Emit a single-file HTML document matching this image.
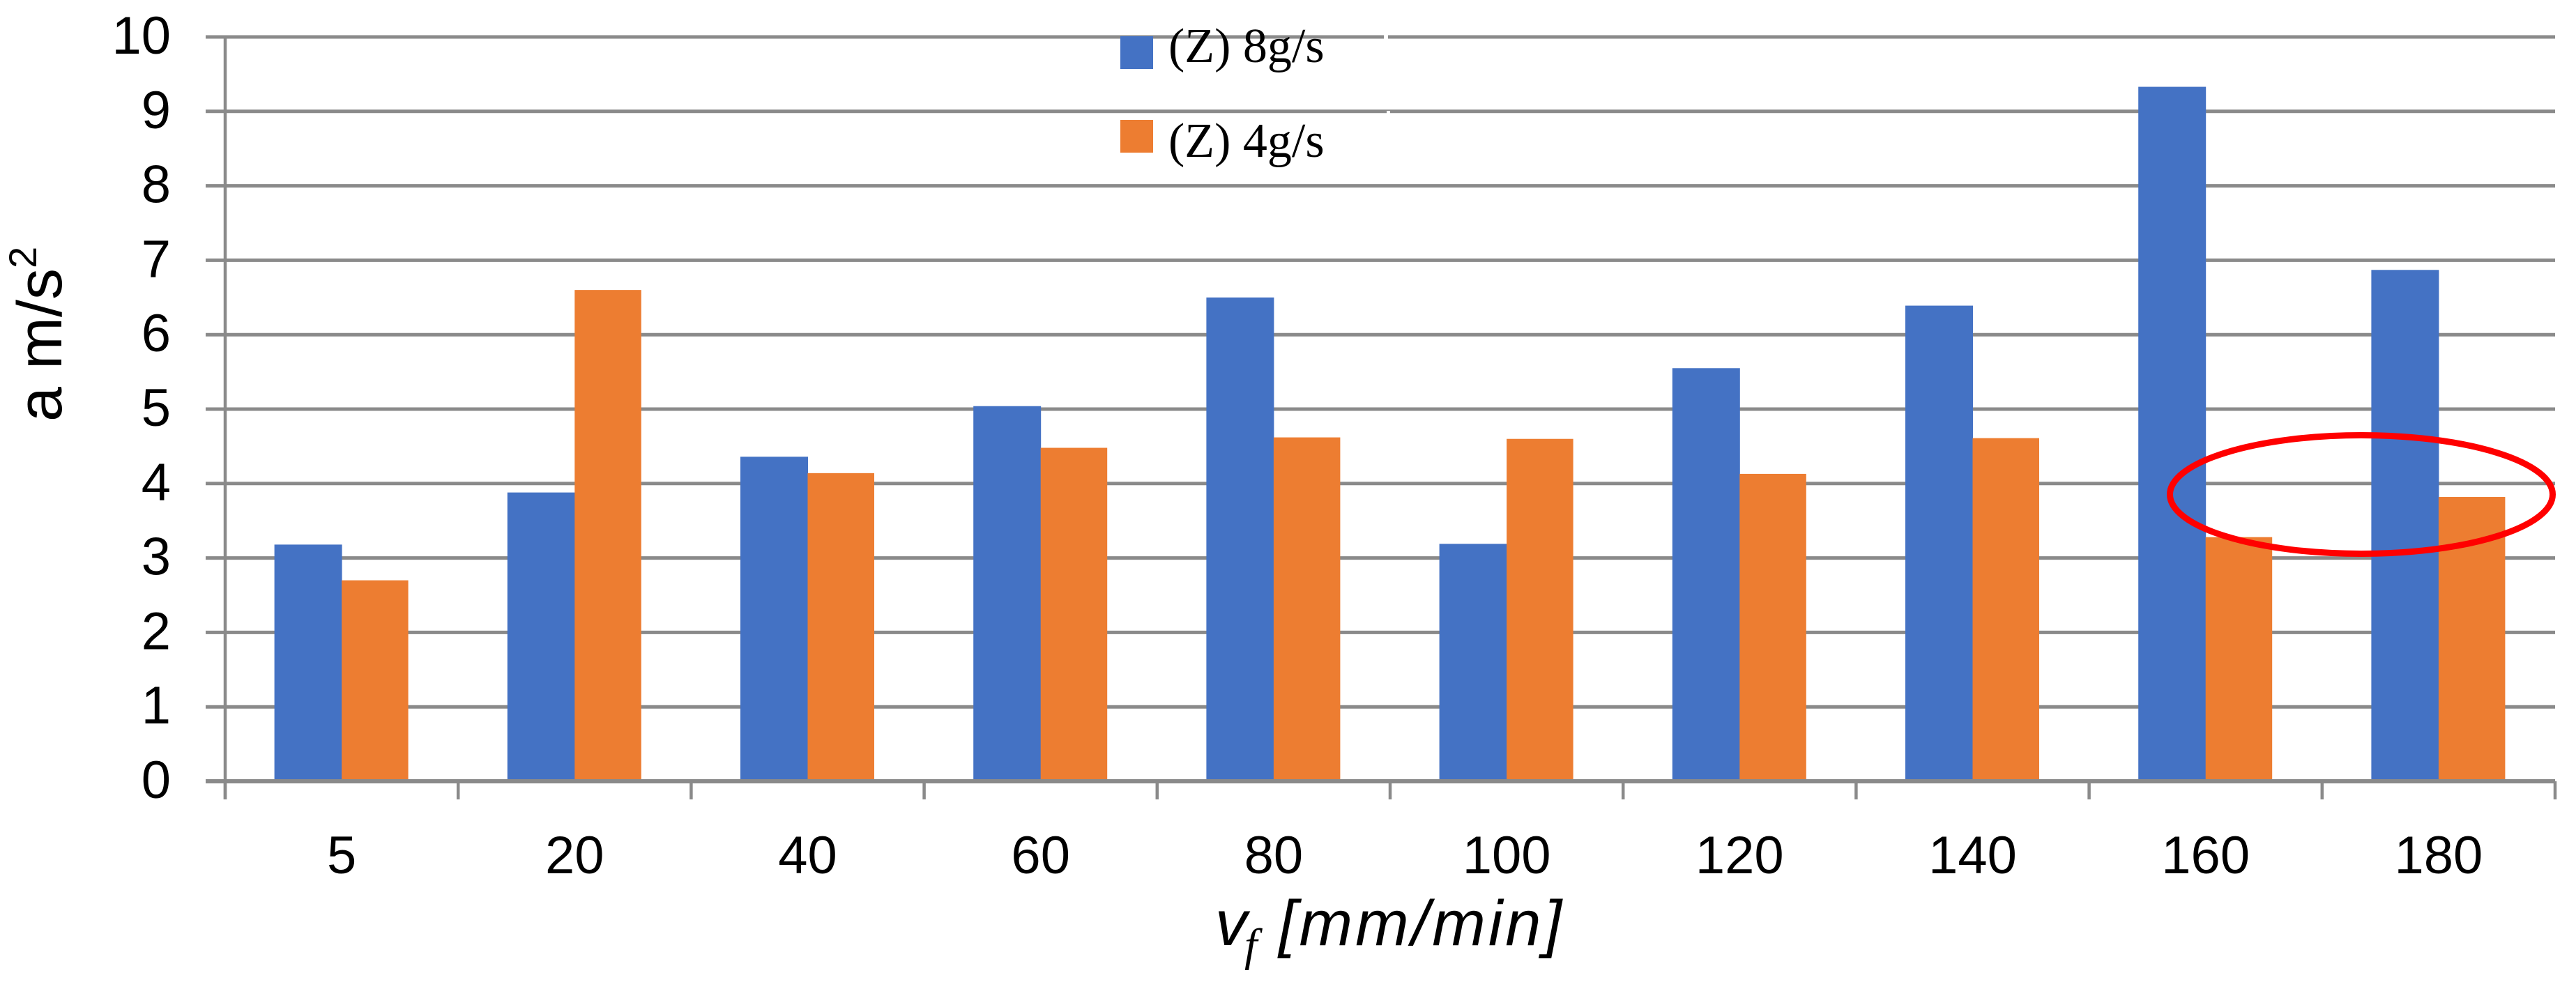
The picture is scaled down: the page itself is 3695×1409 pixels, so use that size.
<!DOCTYPE html>
<html>
<head>
<meta charset="utf-8">
<style>
html,body{margin:0;padding:0;background:#fff;width:3695px;height:1409px;overflow:hidden}
svg{display:block}
.tick{font-family:"Liberation Sans",sans-serif;font-size:76px;fill:#000}
</style>
</head>
<body>
<svg id="chart" xmlns="http://www.w3.org/2000/svg" width="3695" height="1409" viewBox="0 0 3695 1409">
  <rect x="0" y="0" width="3695" height="1409" fill="#fff"/>
  <g id="grid"></g>
  <g id="axes"></g>
  <g id="bars"></g>
  <g id="ylabels"></g>
  <g id="xlabels"></g>

  <text transform="translate(88,605) rotate(-90)" font-family="'Liberation Sans',sans-serif" font-size="90" fill="#000">a m/s<tspan dy="-36" font-size="56">2</tspan></text>

  <g fill="#000">
    <text x="1743" y="1356" font-family="'Liberation Sans',sans-serif" font-style="italic" font-size="92">v</text>
    <text x="1785" y="1378" font-family="'Liberation Serif',serif" font-style="italic" font-size="66">f</text>
    <text x="1834" y="1356" font-family="'Liberation Sans',sans-serif" font-style="italic" font-size="92" textLength="406" lengthAdjust="spacing">[mm/min]</text>
  </g>

  <g>
    <rect x="1985" y="50" width="6" height="8" fill="#fff"/>
    <rect x="1989" y="159" width="5" height="4" fill="#fff"/>
    <rect x="1607" y="52" width="47" height="47" fill="#4472C4"/>
    <text x="1676" y="89" font-family="'Liberation Serif',serif" font-size="70" fill="#000">(Z) 8g/s</text>
    <rect x="1607" y="172" width="47" height="47" fill="#ED7D31"/>
    <text x="1676" y="225" font-family="'Liberation Serif',serif" font-size="70" fill="#000">(Z) 4g/s</text>
  </g>

  <ellipse cx="3387" cy="709.5" rx="274.5" ry="85" fill="none" stroke="#FF0000" stroke-width="9"/>
</svg>
<script>
const categories = ["5","20","40","60","80","100","120","140","160","180"];
const series8gs = [3.18,3.88,4.36,5.04,6.50,3.19,5.55,6.39,9.33,6.87];
const series4gs = [2.70,6.60,4.14,4.48,4.62,4.60,4.13,4.61,3.28,3.82];
const yTickValues = [0,1,2,3,4,5,6,7,8,9,10];

const NS = "http://www.w3.org/2000/svg";
const plotLeft = 323, plotRight = 3665, plotBottom = 1121, plotTop = 53;
const gridColor = "#8A8A8A";
const barWidth = 95.5;

function yScale(v){ return plotBottom - (v / 10) * (plotBottom - plotTop); }
function xBand(i){ return plotLeft + i * (plotRight - plotLeft) / categories.length; }
function xCenter(i){ return xBand(i + 0.5); }
function make(tag, attrs){
  const el = document.createElementNS(NS, tag);
  for (const k in attrs) el.setAttribute(k, attrs[k]);
  return el;
}

const gridG = document.getElementById("grid");
const axesG = document.getElementById("axes");
const barsG = document.getElementById("bars");
const ylabG = document.getElementById("ylabels");
const xlabG = document.getElementById("xlabels");

yTickValues.forEach(function(v){
  const line = make("line", {x1:295, x2:plotRight, y1:yScale(v), y2:yScale(v), stroke:gridColor, "stroke-width": v === 0 ? 6 : 5});
  
  
  gridG.appendChild(line);

  const t = make("text", {x:245, y:yScale(v) + 24, "text-anchor":"end", class:"tick"});
  t.textContent = String(v);
  
  
  ylabG.appendChild(t);
});

const yAxis = make("line", {x1:plotLeft, x2:plotLeft, y1:plotTop, y2:1147, stroke:gridColor, "stroke-width":4.5});


axesG.appendChild(yAxis);

for (let i = 0; i <= categories.length; i++) {
  const tk = make("line", {x1:xBand(i), x2:xBand(i), y1:plotBottom, y2:1147, stroke:gridColor, "stroke-width":4.5});
  
  
  axesG.appendChild(tk);
}

categories.forEach(function(c, i){
  const cx = xCenter(i);

  const b1 = make("rect", {x:cx - barWidth - 1, y:yScale(series8gs[i]), width:barWidth + 1.5, height:plotBottom - 3 - yScale(series8gs[i]), fill:"#4472C4"});
  
  
  barsG.appendChild(b1);

  const b2 = make("rect", {x:cx, y:yScale(series4gs[i]), width:barWidth, height:plotBottom - 3 - yScale(series4gs[i]), fill:"#ED7D31"});
  
  
  barsG.appendChild(b2);

  const t = make("text", {x:cx, y:1253, "text-anchor":"middle", class:"tick"});
  t.textContent = c;
  
  
  xlabG.appendChild(t);
});
</script>
</body>
</html>
